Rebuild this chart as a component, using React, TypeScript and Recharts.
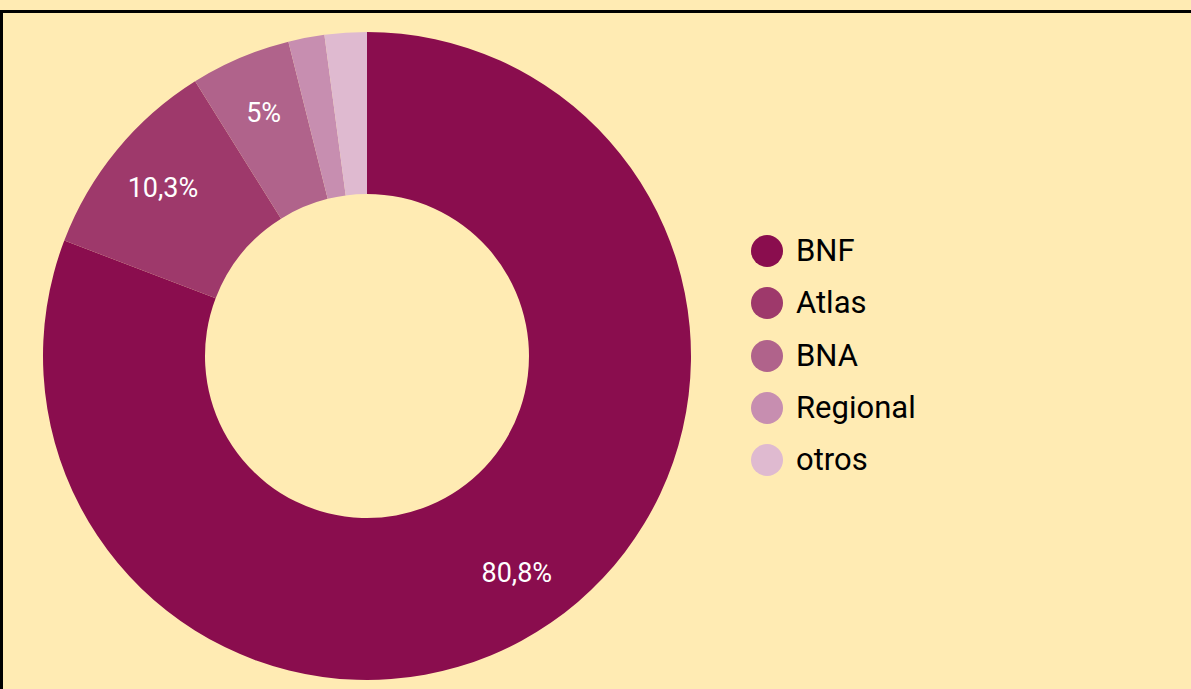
import { Pie, PieChart, Cell } from "recharts";

const categories = ["BNF", "Atlas", "BNA", "Regional", "otros"];
const shares = [80.8, 10.3, 5, 1.8, 2.1];
const shareLabels = ["80,8%", "10,3%", "5%", "", ""];
const colors = ["#8a0d4e", "#9e396b", "#b0638b", "#c78eb0", "#dfbad0"];

const data = categories.map((name, i) => ({ name, value: shares[i], label: shareLabels[i] }));

const RADIAN = Math.PI / 180;

const renderLabel = (props: any) => {
  const { cx, cy, midAngle, outerRadius, index } = props;
  const text = data[index].label;
  if (!text) return null;
  const r = outerRadius * 0.815;
  const x = cx + r * Math.cos(-midAngle * RADIAN);
  const y = cy + r * Math.sin(-midAngle * RADIAN);
  return (
    <text x={x} y={y} fill="#ffffff" fontSize={27} textAnchor="middle" dominantBaseline="central" fontFamily="Roboto">
      {text}
    </text>
  );
};

function ChartLegend() {
  return (
    <div style={{ position: "absolute", left: 751, top: 225, fontFamily: "Roboto" }}>
      {data.map((d, i) => (
        <div key={d.name} style={{ display: "flex", alignItems: "center", height: 52.3 }}>
          <span
            style={{ width: 32, height: 32, borderRadius: 16, background: colors[i], display: "inline-block", marginRight: 13 }}
          />
          <span style={{ fontSize: 31, color: "#000", lineHeight: "52px" }}>{d.name}</span>
        </div>
      ))}
    </div>
  );
}

export default function App() {
  return (
    <div style={{ position: "fixed", left: 0, top: 0, width: 1191, height: 689, background: "#ffebb3", overflow: "hidden" }}>
      <div
        style={{
          position: "absolute",
          left: 0,
          top: 10,
          width: 1300,
          height: 800,
          borderTop: "3px solid #000",
          borderLeft: "3px solid #000",
          boxSizing: "border-box",
        }}
      />
      <div style={{ position: "absolute", left: 0, top: 0 }}>
        <PieChart width={1191} height={689} margin={{ top: 0, right: 0, bottom: 0, left: 0 }}>
          <Pie
            data={data}
            dataKey="value"
            nameKey="name"
            cx={367}
            cy={356}
            innerRadius={162}
            outerRadius={324}
            startAngle={90}
            endAngle={-270}
            stroke="none"
            label={renderLabel}
            labelLine={false}
            isAnimationActive={false}
          >
            {data.map((d, i) => (
              <Cell key={d.name} fill={colors[i]} />
            ))}
          </Pie>
        </PieChart>
      </div>
      <ChartLegend />
    </div>
  );
}
